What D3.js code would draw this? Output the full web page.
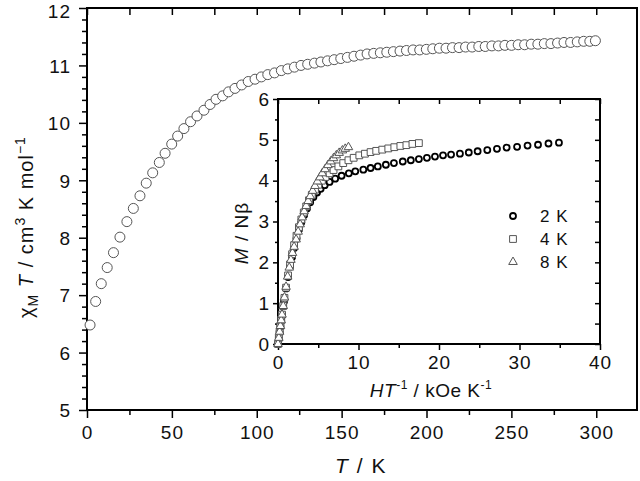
<!DOCTYPE html>
<html>
<head>
<meta charset="utf-8">
<script src="https://cdn.jsdelivr.net/npm/d3@7"></script>
<style>
  body { margin: 0; background: #fff; }
  svg { display: block; font-family: "Liberation Sans", Arial, sans-serif; }
</style>
</head>
<body>
<svg id="chart" width="640" height="481"></svg>
<script>
// main curve: chiM*T vs T
const tempK = [1.8, 5.1, 8.4, 11.9, 15.6, 19.4, 23.5, 27.3, 31.2, 34.9, 38.7, 42.6, 46, 49.9, 53.4, 57.1,
  61, 64.8, 68.9, 72.5, 76, 79.9, 83.4, 87.2, 91.1, 95, 99, 102.7, 106.5, 110.5, 114.5, 118.3, 122.2, 126.1,
  130, 134, 137.8, 141.7, 145.6, 149.5, 153.4, 157.3, 161.2, 165, 168.9, 172.8, 176.6, 180.5, 184.4, 188.2,
  192.1, 196, 199.9, 203.7, 207.6, 211.5, 215.3, 219.2, 223, 226.9, 230.8, 234.6, 238.5, 242.4, 246.2, 250.1,
  254, 257.8, 261.7, 265.6, 269.4, 273.3, 277.2, 281, 284.9, 288.8, 292.6, 296.2, 299.5];
const chiMT = [6.48, 6.89, 7.20, 7.48, 7.74, 8.01, 8.28, 8.51, 8.73, 8.95, 9.13, 9.31, 9.47, 9.63, 9.77, 9.90,
  10.02, 10.12, 10.22, 10.32, 10.41, 10.47, 10.54, 10.60, 10.66, 10.72, 10.76, 10.80, 10.84, 10.87, 10.91, 10.94, 10.97, 11.00,
  11.02, 11.04, 11.06, 11.08, 11.10, 11.12, 11.14, 11.16, 11.18, 11.20, 11.21, 11.22, 11.23, 11.24, 11.25, 11.26,
  11.27, 11.27, 11.28, 11.29, 11.30, 11.30, 11.31, 11.31, 11.32, 11.32, 11.33, 11.33, 11.34, 11.34, 11.35, 11.35,
  11.36, 11.36, 11.37, 11.37, 11.38, 11.38, 11.39, 11.40, 11.40, 11.41, 11.42, 11.42, 11.43];

// inset: M/Nb vs H/T
const ht2K = [0, 0.1, 0.2, 0.3, 0.4, 0.5, 0.75, 1.0, 1.25, 1.5, 1.75, 2.0, 2.3, 2.6, 2.9, 3.25, 3.6, 4.0, 4.4, 4.85,
  5.3, 5.8, 6.4, 7.1, 7.9, 8.8, 9.6, 10.6, 11.5, 12.4, 13.4, 14.4, 15.5, 16.5, 17.5, 18.5, 19.5, 20.5, 21.5, 22.6,
  23.7, 24.8, 26.0, 27.2, 28.4, 29.7, 31.0, 32.3, 33.6, 34.9];
const m2K = [0, 0.15, 0.3, 0.44, 0.58, 0.72, 1.05, 1.36, 1.64, 1.9, 2.13, 2.35, 2.58, 2.8, 2.98, 3.16, 3.32, 3.47, 3.6, 3.71,
  3.8, 3.89, 3.97, 4.05, 4.12, 4.18, 4.23, 4.27, 4.31, 4.35, 4.39, 4.43, 4.47, 4.5, 4.53, 4.56, 4.59, 4.62, 4.64, 4.66,
  4.69, 4.72, 4.75, 4.78, 4.81, 4.83, 4.86, 4.88, 4.91, 4.93];
const ht4K = [0, 0.1, 0.2, 0.3, 0.4, 0.5, 0.65, 0.8, 1.0, 1.25, 1.5, 1.75, 2.0, 2.3, 2.6, 2.9, 3.2, 3.5, 3.85, 4.2,
  4.6, 5.0, 5.45, 5.9, 6.4, 6.9, 7.5, 8.1, 8.75, 9.4, 10.1, 10.8, 11.5, 12.2, 12.95, 13.7, 14.45, 15.2, 15.95, 16.7, 17.5];
const m4K = [0, 0.15, 0.3, 0.44, 0.58, 0.72, 0.93, 1.13, 1.38, 1.68, 1.95, 2.2, 2.42, 2.65, 2.86, 3.05, 3.22, 3.37, 3.52, 3.65,
  3.78, 3.9, 4.0, 4.09, 4.18, 4.26, 4.35, 4.43, 4.5, 4.56, 4.62, 4.66, 4.7, 4.73, 4.76, 4.79, 4.82, 4.85, 4.87, 4.9, 4.92];
const ht8K = [0, 0.1, 0.2, 0.3, 0.4, 0.5, 0.65, 0.8, 1.0, 1.2, 1.4, 1.6, 1.8, 2.0, 2.25, 2.5, 2.75, 3.0, 3.25, 3.5,
  3.75, 4.0, 4.3, 4.6, 4.9, 5.2, 5.5, 5.85, 6.2, 6.55, 6.9, 7.25, 7.6, 8.0, 8.35, 8.75];
const m8K = [0, 0.15, 0.3, 0.44, 0.58, 0.72, 0.93, 1.14, 1.4, 1.65, 1.87, 2.06, 2.23, 2.38, 2.56, 2.75, 2.93, 3.1, 3.25, 3.38,
  3.5, 3.62, 3.75, 3.87, 3.98, 4.08, 4.18, 4.28, 4.38, 4.47, 4.55, 4.62, 4.68, 4.74, 4.78, 4.82];

const legendLabels = ["2 K", "4 K", "8 K"];
const mainXTicks = [0, 50, 100, 150, 200, 250, 300];
const mainXMinor = [25, 75, 125, 175, 225, 275];
const mainYTicks = [5, 6, 7, 8, 9, 10, 11, 12];
const mainYMinor = d3.range(5, 12.01, 0.2).filter(v => Math.abs(v - Math.round(v)) > 0.01);
const insetXTicks = [0, 10, 20, 30, 40];
const insetXMinor = [5, 15, 25, 35];
const insetYTicks = [0, 1, 2, 3, 4, 5, 6];
const insetYMinor = [0.5, 1.5, 2.5, 3.5, 4.5, 5.5];

const svg = d3.select("#chart");

const x = d3.scaleLinear().domain([0, 324]).range([87, 637]);
const y = d3.scaleLinear().domain([5, 12]).range([410, 8]);
const ix = d3.scaleLinear().domain([0, 40]).range([278, 600]);
const iy = d3.scaleLinear().domain([0, 6]).range([344, 99]);

function styleAxis(g, fs) {
    g.select(".domain").remove();
    g.selectAll("line").attr("stroke", "#000").attr("stroke-width", 1.5);
    g.selectAll("text").attr("fill", "#111").attr("font-size", fs)
        .attr("font-family", "'Liberation Sans', Arial, sans-serif").attr("letter-spacing", 1);
}

function addAxis(axis, tx, ty, fs) {
    const g = svg.append("g").attr("transform", `translate(${tx},${ty})`).call(axis);
    styleAxis(g, fs);
    return g;
}

// ---- main plot ----
addAxis(d3.axisBottom(x).tickValues(mainXTicks).tickSize(8).tickPadding(8).tickFormat(d3.format("d")), 0, 410, 19);
addAxis(d3.axisBottom(x).tickValues(mainXMinor).tickSize(5).tickFormat(""), 0, 410);
const yax = addAxis(d3.axisLeft(y).tickValues(mainYTicks).tickSize(8).tickPadding(8).tickFormat(d3.format("d")), 87, 0, 19);
// top label sits against the page edge, nudge it down a little
yax.selectAll("text").attr("dy", d => d === 12 ? "0.5em" : "0.36em");
addAxis(d3.axisLeft(y).tickValues(mainYMinor).tickSize(5).tickFormat(""), 87, 0);
addAxis(d3.axisTop(x).tickValues(mainXTicks.concat(mainXMinor)).tickSize(-7).tickFormat(""), 0, 8);

svg.append("rect").attr("x", 87).attr("y", 8).attr("width", 550).attr("height", 402)
    .attr("fill", "none").attr("stroke", "#000").attr("stroke-width", 2);

svg.append("g").selectAll("circle")
    .data(tempK.map((t, i) => [t, chiMT[i]]))
    .join("circle")
    .attr("cx", d => x(d[0])).attr("cy", d => y(d[1])).attr("r", 5)
    .attr("fill", "#fff").attr("stroke", "#555").attr("stroke-width", 1);

// main axis titles
const xt = svg.append("text").attr("x", 361).attr("y", 473).attr("text-anchor", "middle")
    .attr("font-size", 21).attr("letter-spacing", 1.5).attr("fill", "#111");
xt.append("tspan").attr("font-style", "italic").text("T");
xt.append("tspan").text(" / K");

const yt = svg.append("text").attr("transform", "translate(33,227) rotate(-90)")
    .attr("text-anchor", "middle").attr("font-size", 20).attr("letter-spacing", 1).attr("fill", "#111");
yt.append("tspan").text("χ");
yt.append("tspan").attr("font-size", 14).attr("dy", 5).text("M");
yt.append("tspan").attr("dy", -5).attr("font-style", "italic").text(" T");
yt.append("tspan").text(" / cm");
yt.append("tspan").attr("font-size", 14).attr("dy", -8).text("3");
yt.append("tspan").attr("dy", 8).text(" K mol");
yt.append("tspan").attr("font-size", 14).attr("dy", -8).text("−1");

// ---- inset ----
svg.append("rect").attr("x", 278).attr("y", 99).attr("width", 322).attr("height", 245).attr("fill", "#fff");

addAxis(d3.axisBottom(ix).tickValues(insetXTicks).tickSize(6).tickPadding(6).tickFormat(d3.format("d")), 0, 344, 19);
addAxis(d3.axisBottom(ix).tickValues(insetXMinor).tickSize(4).tickFormat(""), 0, 344);
addAxis(d3.axisLeft(iy).tickValues(insetYTicks).tickSize(5).tickPadding(3).tickFormat(d3.format("d")), 278, 0, 19);
addAxis(d3.axisLeft(iy).tickValues(insetYMinor).tickSize(3).tickFormat(""), 278, 0);
addAxis(d3.axisTop(ix).tickValues(insetXTicks.concat(insetXMinor)).tickSize(-5).tickFormat(""), 0, 99);
addAxis(d3.axisRight(iy).tickValues(insetYTicks.concat(insetYMinor)).tickSize(-5).tickFormat(""), 600, 0);

svg.append("rect").attr("x", 278).attr("y", 99).attr("width", 322).attr("height", 245)
    .attr("fill", "none").attr("stroke", "#000").attr("stroke-width", 2);

const inset = svg.append("g");
const sq = d3.symbol().type(d3.symbolSquare).size(46);
const tri = d3.symbol().type(d3.symbolTriangle).size(32);

inset.append("g").selectAll("circle")
    .data(ht2K.map((h, i) => [h, m2K[i]]))
    .join("circle")
    .attr("cx", d => ix(d[0])).attr("cy", d => iy(d[1])).attr("r", 3)
    .attr("fill", "#fff").attr("stroke", "#000").attr("stroke-width", 1.8);

inset.append("g").selectAll("path")
    .data(ht4K.map((h, i) => [h, m4K[i]]))
    .join("path")
    .attr("d", sq).attr("transform", d => `translate(${ix(d[0])},${iy(d[1])})`)
    .attr("fill", "#fff").attr("stroke", "#555").attr("stroke-width", 1);

inset.append("g").selectAll("path")
    .data(ht8K.map((h, i) => [h, m8K[i]]))
    .join("path")
    .attr("d", tri).attr("transform", d => `translate(${ix(d[0])},${iy(d[1])})`)
    .attr("fill", "#fff").attr("stroke", "#555").attr("stroke-width", 1);

// legend
const leg = svg.append("g").attr("transform", "translate(513,216)");
leg.append("circle").attr("cx", 0).attr("cy", 0).attr("r", 3)
    .attr("fill", "#fff").attr("stroke", "#000").attr("stroke-width", 1.8);
leg.append("path").attr("d", sq).attr("transform", "translate(0,23)")
    .attr("fill", "#fff").attr("stroke", "#555").attr("stroke-width", 1);
leg.append("path").attr("d", tri).attr("transform", "translate(0,46)")
    .attr("fill", "#fff").attr("stroke", "#555").attr("stroke-width", 1);
leg.selectAll("text").data(legendLabels).join("text")
    .attr("x", 27).attr("y", (d, i) => i * 23 + 6)
    .attr("font-size", 17).attr("letter-spacing", 1).attr("fill", "#111")
    .text(d => d);

// inset titles
const ixt = svg.append("text").attr("x", 431).attr("y", 397).attr("text-anchor", "middle")
    .attr("font-size", 19).attr("letter-spacing", 0.5).attr("fill", "#111");
ixt.append("tspan").attr("font-style", "italic").text("HT");
ixt.append("tspan").attr("font-size", 12).attr("dy", -8).text("-1");
ixt.append("tspan").attr("dy", 8).text(" / kOe K");
ixt.append("tspan").attr("font-size", 12).attr("dy", -8).text("-1");

const iyt = svg.append("text").attr("transform", "translate(248,233) rotate(-90)")
    .attr("text-anchor", "middle").attr("font-size", 19).attr("letter-spacing", 1).attr("fill", "#111");
iyt.append("tspan").attr("font-style", "italic").text("M");
iyt.append("tspan").text(" / Nβ");
</script>
</body>
</html>
